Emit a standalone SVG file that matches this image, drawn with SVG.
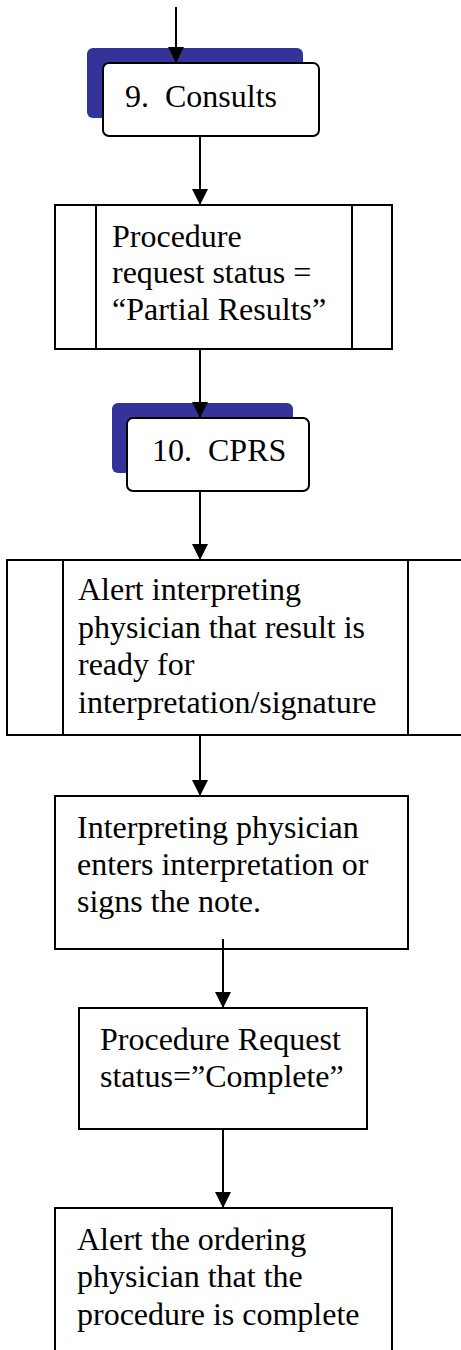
<svg xmlns="http://www.w3.org/2000/svg" width="461" height="1350" viewBox="0 0 461 1350">
<style>
.box{fill:#fff;stroke:#000;stroke-width:2}
.shadow{fill:#333399;stroke:none}
.t{font-family:"Liberation Serif","Times New Roman",serif;font-size:32px;fill:#000}
.c{stroke:#000;stroke-width:2;fill:none;marker-end:url(#arr)}
</style>
<defs>
<marker id="arr" viewBox="0 0 16 16" refX="16" refY="8" markerWidth="16" markerHeight="16" markerUnits="userSpaceOnUse" orient="auto">
<path d="M0,0 L16,8 L0,16 z" fill="#000"/>
</marker>
</defs>
<g id="node-consults">
<rect class="shadow" x="87" y="48" width="216" height="70" rx="6"/>
<rect class="box" x="103" y="63" width="216" height="73" rx="6"/>
<text class="t" x="125" y="107" xml:space="preserve">9.  Consults</text>
</g>
<g id="node-partial">
<rect class="box" x="55" y="205" width="337" height="144"/>
<line x1="96" y1="205" x2="96" y2="349" stroke="#000" stroke-width="2"/>
<line x1="352" y1="205" x2="352" y2="349" stroke="#000" stroke-width="2"/>
<text class="t" x="112" y="247">Procedure</text>
<text class="t" x="112" y="283">request status =</text>
<text class="t" x="112" y="320">“Partial Results”</text>
</g>
<g id="node-cprs">
<rect class="shadow" x="112" y="403" width="181" height="70" rx="6"/>
<rect class="box" x="127" y="418" width="182" height="73" rx="6"/>
<text class="t" x="152" y="461" xml:space="preserve">10.  CPRS</text>
</g>
<g id="node-alert-interp">
<rect class="box" x="7" y="560" width="465" height="175"/>
<line x1="63" y1="560" x2="63" y2="735" stroke="#000" stroke-width="2"/>
<line x1="408" y1="560" x2="408" y2="735" stroke="#000" stroke-width="2"/>
<text class="t" x="78" y="600">Alert interpreting</text>
<text class="t" x="78" y="638">physician that result is</text>
<text class="t" x="78" y="675">ready for</text>
<text class="t" x="78" y="713">interpretation/signature</text>
</g>
<g id="node-interp-enters">
<rect class="box" x="55" y="796" width="353" height="153"/>
<text class="t" x="77" y="838">Interpreting physician</text>
<text class="t" x="77" y="875">enters interpretation or</text>
<text class="t" x="77" y="912">signs the note.</text>
</g>
<g id="node-complete">
<rect class="box" x="79" y="1008" width="288" height="121"/>
<text class="t" x="100" y="1050">Procedure Request</text>
<text class="t" x="100" y="1087">status=”Complete”</text>
</g>
<g id="node-alert-ordering">
<rect class="box" x="55" y="1208" width="337" height="160"/>
<text class="t" x="77" y="1250">Alert the ordering</text>
<text class="t" x="77" y="1287">physician that the</text>
<text class="t" x="77" y="1325">procedure is complete</text>
</g>
<g id="connectors">
<line class="c" x1="176" y1="7" x2="176" y2="63"/>
<line class="c" x1="200" y1="136" x2="200" y2="205"/>
<line class="c" x1="200" y1="349" x2="200" y2="418"/>
<line class="c" x1="200" y1="491" x2="200" y2="560"/>
<line class="c" x1="200" y1="735" x2="200" y2="796"/>
<line class="c" x1="223" y1="939" x2="223" y2="1008"/>
<line class="c" x1="223" y1="1129" x2="223" y2="1208"/>
</g>
</svg>
